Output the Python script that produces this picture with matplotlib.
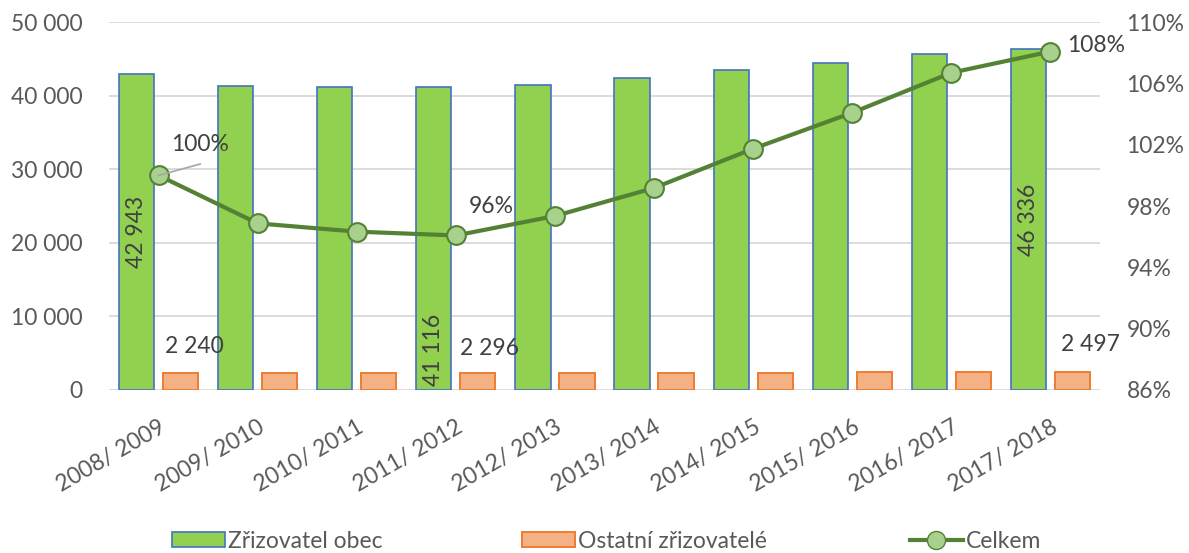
import matplotlib
matplotlib.use("Agg")
import matplotlib.pyplot as plt
import numpy as np
from matplotlib.patches import Patch
from matplotlib.lines import Line2D

plt.rcParams['font.family'] = ['Lato', 'DejaVu Sans']

categories = ["2008/ 2009", "2009/ 2010", "2010/ 2011", "2011/ 2012", "2012/ 2013",
              "2013/ 2014", "2014/ 2015", "2015/ 2016", "2016/ 2017", "2017/ 2018"]
obec = [42943, 41360, 41180, 41116, 41500, 42360, 43500, 44490, 45700, 46336]
ostatni = [2240, 2330, 2270, 2296, 2350, 2330, 2360, 2450, 2470, 2497]
celkem = [1.000, 0.9687, 0.9633, 0.9608, 0.9735, 0.9918, 1.0174, 1.0409, 1.0670, 1.0808]

left_ticks = [0, 10000, 20000, 30000, 40000, 50000]
right_ticks = [0.86, 0.90, 0.94, 0.98, 1.02, 1.06, 1.10]

TXT = '#595959'
LBL = '#404040'
FS = 16.5
fig = plt.figure(figsize=(11.89, 5.53), dpi=100)
ax = fig.add_axes([0.09167, 0.2948, 0.8335, 0.6652])
ax2 = ax.twinx()

x = np.arange(len(categories))
w = 0.355
off = 0.222
ax.bar(x - off, obec, w, color='#92D050', edgecolor='#4472C4', linewidth=1.2, zorder=2)
ax.bar(x + off, ostatni, w, color='#F4B183', edgecolor='#ED7D31', linewidth=1.4, zorder=2)

ax.set_xlim(-0.5, len(categories) - 0.5)
ax.set_ylim(0, 50000)
ax.set_yticks(left_ticks)
ax.set_yticklabels([f"{v:,}".replace(",", " ") for v in left_ticks])
ax.yaxis.grid(True, color='#D9D9D9', linewidth=1.3, zorder=0)
ax.set_axisbelow(True)
for s in ax.spines.values():
    s.set_visible(False)
for s in ax2.spines.values():
    s.set_visible(False)
ax.tick_params(axis='both', length=0, labelsize=FS, labelcolor=TXT)
ax.tick_params(axis='y', pad=19)
ax.set_xticks(x)
ax.set_xticklabels(categories, rotation=30, ha='right', va='top', rotation_mode='anchor')
ax.tick_params(axis='x', pad=19)

ax2.plot(x, celkem, color='#548235', linewidth=3.0, marker='o', markersize=13.5,
         markerfacecolor='#A9D18E', markeredgecolor='#548235', markeredgewidth=1.5, zorder=5)
ax2.set_ylim(0.86, 1.10)
ax2.set_yticks(right_ticks)
ax2.set_yticklabels([f"{round(v*100)}%" for v in right_ticks])
ax2.tick_params(axis='y', length=0, labelsize=FS, labelcolor=TXT, pad=19)

# data labels
ax.text(x[0] - off, obec[0] / 2, "42 943", rotation=90, ha='center', va='center', fontsize=FS, color=LBL, zorder=6)
ax.text(x[3] - off, 600, "41 116", rotation=90, ha='center', va='bottom', fontsize=FS, color=LBL, zorder=6)
ax.text(x[9] - off, obec[9] / 2, "46 336", rotation=90, ha='center', va='center', fontsize=FS, color=LBL, zorder=6)
ax.text(x[0] + 0.364, 5850, "2 240", ha='center', va='center', fontsize=FS, color=LBL)
ax.text(x[3] + 0.34, 5580, "2 296", ha='center', va='center', fontsize=FS, color=LBL)
ax.text(x[9] + 0.40, 6120, "2 497", ha='center', va='center', fontsize=FS, color=LBL)

ax2.text(x[0] + 0.414, 1.0200, "100%", ha='center', va='center', fontsize=FS, color=LBL, zorder=7)
ax2.plot([x[0], x[0] + 0.42], [1.000, 1.0074], color='#A6A6A6', linewidth=1.2, zorder=6)
ax2.text(x[3] + 0.354, 0.9794, "96%", ha='center', va='center', fontsize=FS, color=LBL, zorder=7)
ax2.text(x[9] + 0.17, 1.085, "108%", ha='left', va='center', fontsize=FS, color=LBL, zorder=7)

handles = [Patch(facecolor='#92D050', edgecolor='#4472C4', linewidth=1.2),
           Patch(facecolor='#F4B183', edgecolor='#ED7D31', linewidth=1.4),
           Line2D([0], [0], color='#548235', linewidth=3.0, marker='o', markersize=13,
                  markerfacecolor='#A9D18E', markeredgecolor='#548235')]
labels = ["Zřizovatel obec", "Ostatní zřizovatelé", "Celkem"]
lefts = [172, 522, 910]
for h, l, xl in zip(handles, labels, lefts):
    leg = fig.legend([h], [l], loc='center left', bbox_to_anchor=(xl / 1189, 12 / 553),
                     frameon=False, fontsize=FS, labelcolor=TXT, borderpad=0, borderaxespad=0,
                     handlelength=2.3, handleheight=0.65, handletextpad=0.15)

fig.savefig("out.png", dpi=100)
